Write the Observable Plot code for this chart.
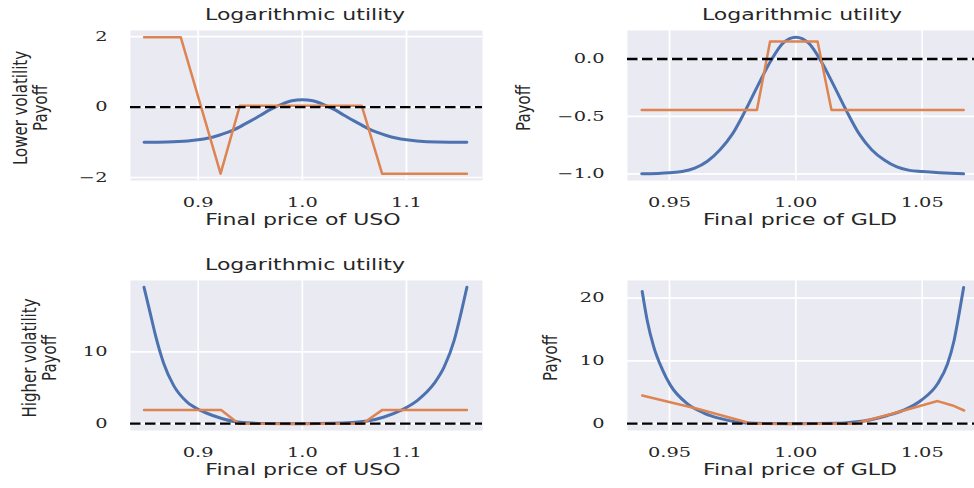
<!DOCTYPE html>
<html>
<head>
<meta charset="utf-8">
<script src="https://cdn.jsdelivr.net/npm/d3@7"></script>
<script src="https://cdn.jsdelivr.net/npm/@observablehq/plot@0.6"></script>
<style>
  body { margin: 0; background: #ffffff; }
  #fig { position: relative; width: 974px; height: 488px; overflow: hidden; background: #ffffff; }
  #fig svg { position: absolute; }
</style>
</head>
<body>
<div id="fig"></div>
<script>
// ---- USO, lower volatility ----
const usoLowUtilX = [0.848, 0.87, 0.89, 0.90, 0.91, 0.92, 0.93, 0.94, 0.95, 0.96, 0.97, 0.98, 0.99, 1.00,
                     1.01, 1.02, 1.03, 1.04, 1.05, 1.06, 1.07, 1.08, 1.09, 1.10, 1.11, 1.13, 1.158];
const usoLowUtilY = [-1.00, -0.99, -0.96, -0.93, -0.88, -0.80, -0.70, -0.56, -0.40, -0.23, -0.06, 0.08, 0.18, 0.21,
                     0.18, 0.08, -0.06, -0.23, -0.40, -0.56, -0.70, -0.80, -0.88, -0.93, -0.96, -0.99, -1.00];
const usoLowOptX = [0.848, 0.8833, 0.9215, 0.940, 1.057, 1.0766, 1.158];
const usoLowOptY = [1.98, 1.98, -1.89, 0.04, 0.04, -1.89, -1.89];

// ---- GLD, lower volatility ----
const gldLowUtilX = [0.939, 0.95, 0.955, 0.96, 0.965, 0.97, 0.975, 0.98, 0.985, 0.99, 0.995, 1.00,
                     1.005, 1.01, 1.015, 1.02, 1.025, 1.03, 1.035, 1.04, 1.045, 1.05, 1.0664];
const gldLowUtilY = [-1.00, -0.99, -0.98, -0.95, -0.89, -0.79, -0.65, -0.45, -0.23, -0.02, 0.14, 0.19,
                     0.14, -0.02, -0.23, -0.45, -0.65, -0.79, -0.88, -0.94, -0.97, -0.98, -1.00];
const gldLowOptX = [0.939, 0.9846, 0.9898, 1.0086, 1.0141, 1.0664];
const gldLowOptY = [-0.445, -0.445, 0.152, 0.152, -0.445, -0.445];

// ---- USO, higher volatility ----
const usoHighUtilX = [0.848, 0.8541, 0.859, 0.8669, 0.8765, 0.8894, 0.9022, 0.9183, 0.9375, 0.963, 1.00,
                      1.0304, 1.0625, 1.0785, 1.0945, 1.1106, 1.1266, 1.1362, 1.1458, 1.1522, 1.158];
const usoHighUtilY = [19.0, 15.3, 12.3, 8.4, 5.3, 3.0, 1.85, 0.93, 0.23, 0.03, 0.0,
                      0.05, 0.37, 0.93, 1.85, 3.25, 5.6, 7.9, 11.6, 15.3, 19.0];
const usoHighOptX = [0.848, 0.922, 0.939, 1.0577, 1.0769, 1.158];
const usoHighOptY = [1.92, 1.92, 0.0, 0.0, 1.92, 1.92];

// ---- GLD, higher volatility ----
const gldHighUtilX = [0.9392, 0.9412, 0.9438, 0.9471, 0.9504, 0.957, 0.9636, 0.9703, 0.9769, 0.9835, 1.00,
                      1.0165, 1.0231, 1.0297, 1.0363, 1.0429, 1.0495, 1.0561, 1.06, 1.0626, 1.0646, 1.0664];
const gldHighUtilY = [21.05, 16.4, 12.2, 8.7, 6.1, 3.2, 1.7, 0.8, 0.25, 0.05, 0.0,
                      0.05, 0.25, 0.63, 1.3, 2.2, 3.7, 6.35, 9.5, 13.2, 17.5, 21.7];
const gldHighOptX = [0.9392, 0.961, 0.9827, 1.0231, 1.0396, 1.0561, 1.062, 1.0666];
const gldHighOptY = [4.5, 2.38, 0.0, 0.0, 1.75, 3.6, 2.9, 2.1];

// ---- ticks and labels ----
const usoXTicks = [0.9, 1.0, 1.1];
const gldXTicks = [0.95, 1.0, 1.05];
const usoLowYTicks = [-2, 0, 2];
const gldLowYTicks = [-1.0, -0.5, 0.0];
const usoHighYTicks = [0, 10];
const gldHighYTicks = [0, 10, 20];
const panelTitles = ["Logarithmic utility", "Logarithmic utility", "Logarithmic utility", ""];
const xLabels = ["Final price of USO", "Final price of GLD", "Final price of USO", "Final price of GLD"];
const yLabels = [["Lower volatility", "Payoff"], ["Payoff"], ["Higher volatility", "Payoff"], ["Payoff"]];

const BLUE = "#4c72b0", ORANGE = "#dd8452", BG = "#eaeaf2", INK = "#262626";
const PW = 487, PH = 244;          // size of one panel
const SANS = "DejaVu Sans";
const TEXT_SX = 1.47, TICK_SX = 1.49, YLAB_SX = 1.3;

// widen a text element horizontally around its own x anchor
function stretch(el, s) {
  let x = parseFloat(el.getAttribute("x"));
  if (!isFinite(x)) x = 0;
  const t = el.getAttribute("transform") || "";
  el.setAttribute("transform", `${t} translate(${x},0) scale(${s},1) translate(${-x},0)`.trim());
}

function panel(cfg) {
  const svg = Plot.plot({
    width: PW, height: PH,
    marginLeft: cfg.mL, marginRight: cfg.mR, marginTop: cfg.mT, marginBottom: cfg.mB,
    style: { fontFamily: "DejaVu Serif", fontSize: "13px", color: INK, background: "transparent", overflow: "visible" },
    x: { domain: cfg.xDomain },
    y: { domain: cfg.yDomain },
    marks: [
      Plot.frame({ fill: BG, stroke: "none" }),
      Plot.gridX(cfg.xTicks, { stroke: "white", strokeOpacity: 1, strokeWidth: 1.7 }),
      Plot.gridY(cfg.yTicks, { stroke: "white", strokeOpacity: 1, strokeWidth: 1.7 }),
      Plot.axisX(cfg.xTicks, { tickSize: 0, tickPadding: 17, tickFormat: d3.format(cfg.xFmt), label: null }),
      Plot.axisY(cfg.yTicks, { tickSize: 0, tickPadding: 23, tickFormat: d3.format(cfg.yFmt), label: null }),
      Plot.line(cfg.ux, { x: cfg.ux, y: cfg.uy, stroke: BLUE, strokeWidth: 3, curve: "monotone-x" }),
      Plot.line(cfg.ox, { x: cfg.ox, y: cfg.oy, stroke: ORANGE, strokeWidth: 2.5, curve: "linear" }),
      Plot.ruleY([0], { stroke: "black", strokeWidth: 2.3, strokeDasharray: "10.5,4.5", strokeLinecap: "butt" })
    ]
  });
  svg.style.left = cfg.left + "px";
  svg.style.top = cfg.top + "px";
  svg.querySelectorAll("text").forEach(t => stretch(t, TICK_SX));

  const g = d3.select(svg).append("g")
    .attr("font-family", SANS).attr("font-size", 15).attr("fill", INK);
  const frameBottom = PH - cfg.mB;
  if (cfg.title) {
    const t = g.append("text").attr("x", cfg.mL + 175).attr("y", cfg.mT - 9.5)
      .attr("text-anchor", "middle").text(cfg.title);
    stretch(t.node(), TEXT_SX);
  }
  const xl = g.append("text").attr("x", cfg.mL + 173).attr("y", frameBottom + 45.5)
    .attr("text-anchor", "middle").text(cfg.xlabel);
  stretch(xl.node(), TEXT_SX);

  const cy = (cfg.mT + frameBottom) / 2 + 3;
  const yl = g.append("g")
    .attr("transform", `translate(${cfg.ylabX},${cy}) scale(${YLAB_SX},1) rotate(-90)`);
  const n = cfg.ylabel.length;
  cfg.ylabel.forEach((line, i) => {
    yl.append("text").attr("x", 0).attr("y", (i - (n - 1)) * 15.6)
      .attr("text-anchor", "middle").text(line);
  });
  document.getElementById("fig").appendChild(svg);
}

panel({ left: 0, top: 0, mL: 130, mR: 5, mT: 30, mB: 64,
  xDomain: [0.835, 1.173], yDomain: [-2.085, 2.175], xTicks: usoXTicks, yTicks: usoLowYTicks,
  xFmt: ".1f", yFmt: "d", ux: usoLowUtilX, uy: usoLowUtilY, ox: usoLowOptX, oy: usoLowOptY,
  title: panelTitles[0], xlabel: xLabels[0], ylabel: yLabels[0], ylabX: 47 });

panel({ left: PW, top: 0, mL: 140, mR: 0, mT: 30, mB: 64,
  xDomain: [0.93338, 1.0707], yDomain: [-1.058, 0.248], xTicks: gldXTicks, yTicks: gldLowYTicks,
  xFmt: ".2f", yFmt: ".1f", ux: gldLowUtilX, uy: gldLowUtilY, ox: gldLowOptX, oy: gldLowOptY,
  title: panelTitles[1], xlabel: xLabels[1], ylabel: yLabels[1], ylabX: 43 });

panel({ left: 0, top: PH, mL: 130, mR: 5, mT: 36, mB: 58,
  xDomain: [0.835, 1.173], yDomain: [-0.95, 19.95], xTicks: usoXTicks, yTicks: usoHighYTicks,
  xFmt: ".1f", yFmt: "d", ux: usoHighUtilX, uy: usoHighUtilY, ox: usoHighOptX, oy: usoHighOptY,
  title: panelTitles[2], xlabel: xLabels[2], ylabel: yLabels[2], ylabX: 56 });

panel({ left: PW, top: PH, mL: 140, mR: 0, mT: 36, mB: 58,
  xDomain: [0.93338, 1.0707], yDomain: [-1.085, 22.8], xTicks: gldXTicks, yTicks: gldHighYTicks,
  xFmt: ".2f", yFmt: "d", ux: gldHighUtilX, uy: gldHighUtilY, ox: gldHighOptX, oy: gldHighOptY,
  title: panelTitles[3], xlabel: xLabels[3], ylabel: yLabels[3], ylabX: 70 });
</script>
</body>
</html>
